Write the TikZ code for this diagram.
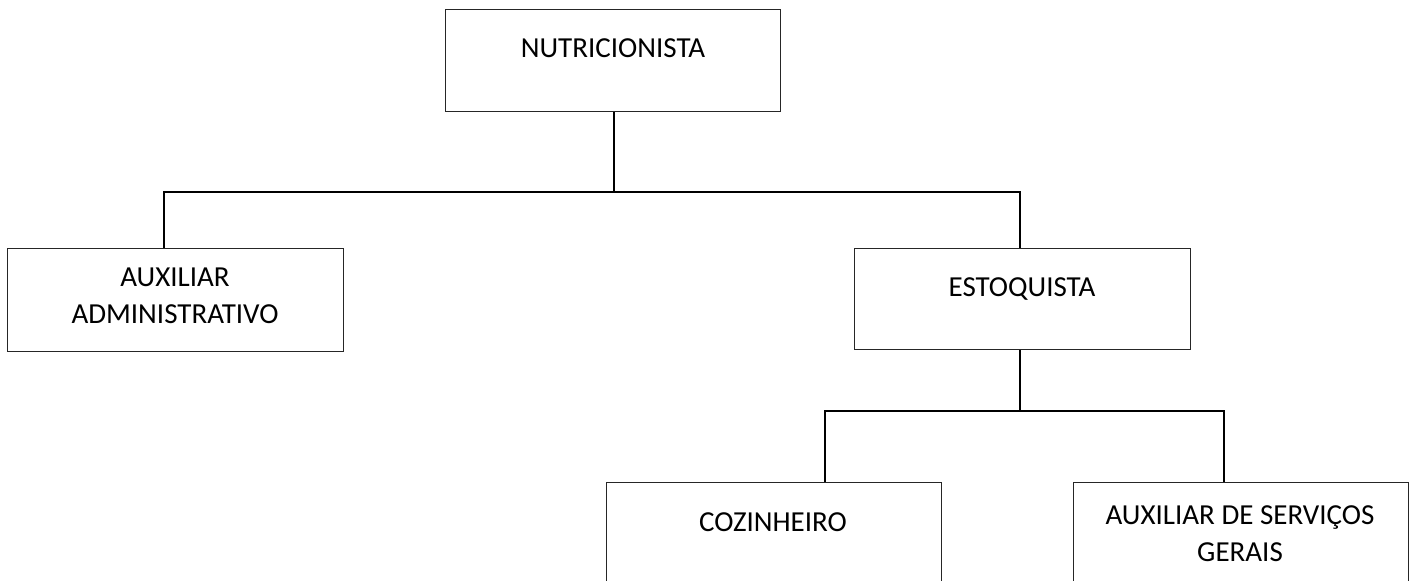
\documentclass[tikz,border=0pt]{standalone}
\usepackage{fontspec}
\setmainfont{Carlito}
\begin{document}
\begin{tikzpicture}[x=1pt,y=-1pt,
  box/.style={draw=black!85, line width=1.4pt, inner sep=0pt, anchor=north west},
  link/.style={draw=black, line width=1.6pt},
  lbl/.style={font=\fontsize{29}{36.5}\selectfont, align=center, inner sep=0pt}]
\useasboundingbox (0,0) rectangle (1414,581);
\clip (0,0) rectangle (1414,581);

% boxes
\node[box, minimum width=335pt, minimum height=102pt] (nutri) at (445,9) {};
\node[box, minimum width=336pt, minimum height=103pt] (aux) at (7,248) {};
\node[box, minimum width=336pt, minimum height=101pt] (est) at (854,248) {};
\node[box, minimum width=335pt, minimum height=130pt] (coz) at (606,482) {};
\node[box, minimum width=335pt, minimum height=130pt] (serv) at (1073,482) {};

% labels
\node[lbl] (tnutri) at (613,48) {NUTRICIONISTA};
\node[lbl] (taux) at (175,296) {AUXILIAR\\ADMINISTRATIVO};
\node[lbl] (test) at (1022,289) {ESTOQUISTA};
\node[lbl] (tcoz) at (773,522) {COZINHEIRO};
\node[lbl] (tserv) at (1240,533.5) {AUXILIAR DE SERVIÇOS\\GERAIS};

% junction points
\coordinate (j1) at (614,192);
\coordinate (jl) at (164,192);
\coordinate (jr) at (1020,192);
\coordinate (j2) at (1020,411);
\coordinate (kl) at (825,411);
\coordinate (kr) at (1224,411);

% connectors
\draw[link] (nutri.south -| j1) -- (j1);
\draw[link] (aux.north -| jl) -- (jl) -- (jr) -- (est.north -| jr);
\draw[link] (est.south -| j2) -- (j2);
\draw[link] (coz.north -| kl) -- (kl) -- (kr) -- (serv.north -| kr);
\end{tikzpicture}
\end{document}
